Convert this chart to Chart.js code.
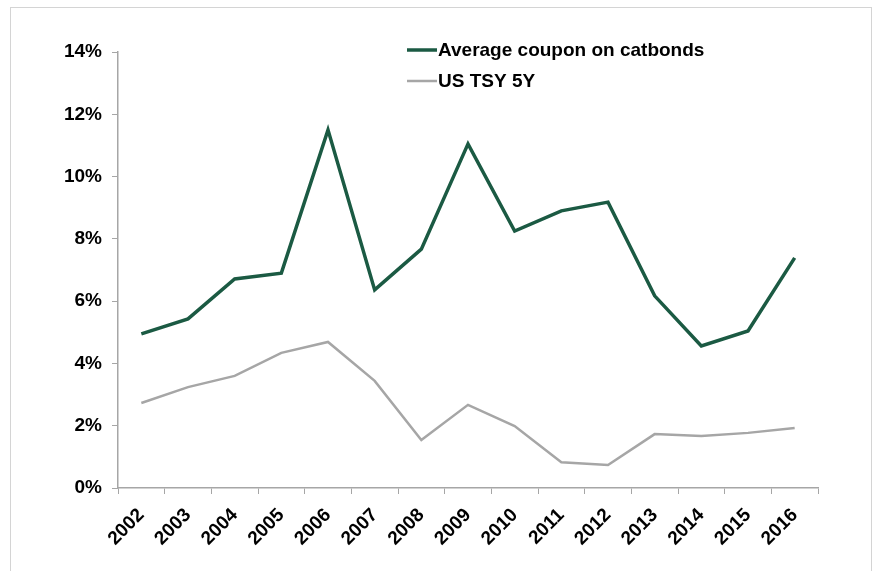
<!DOCTYPE html>
<html>
<head>
<meta charset="utf-8">
<script src="https://cdn.jsdelivr.net/npm/chart.js@4.4.0/dist/chart.umd.min.js"></script>
<style>
  body { margin: 0; background: #fff; overflow: hidden; }
  #frame { position: absolute; left: 10px; top: 7px; width: 860px; height: 580px; border: 1px solid #d4d4d4; }
  #wrap { position: absolute; left: 0; top: 0; width: 873px; height: 571px; }
</style>
</head>
<body>
<div id="frame"></div>
<div id="wrap"><canvas id="chart" width="873" height="571"></canvas></div>
<script>
// Chart data
const years = ['2002', '2003', '2004', '2005', '2006', '2007', '2008', '2009', '2010', '2011', '2012', '2013', '2014', '2015', '2016'];
const catbondCoupon = [4.95, 5.43, 6.71, 6.9, 11.5, 6.36, 7.67, 11.05, 8.25, 8.9, 9.18, 6.17, 4.56, 5.04, 7.39];
const tsy5y = [2.73, 3.24, 3.6, 4.34, 4.69, 3.44, 1.54, 2.67, 1.99, 0.83, 0.74, 1.73, 1.67, 1.77, 1.93];
const yTicks = [0, 2, 4, 6, 8, 10, 12, 14];

const axisColor = '#a6a6a6';
const tickFont = { family: 'Liberation Sans, Arial, sans-serif', size: 19, weight: 'bold' };

// Legend drawn inside the plot, Excel style
const legendPlugin = {
  id: 'insideLegend',
  afterDraw(chart) {
    const ctx = chart.ctx;
    ctx.save();
    ctx.font = 'bold 19px "Liberation Sans", Arial, sans-serif';
    ctx.textBaseline = 'middle';
    ctx.fillStyle = '#000';
    chart.data.datasets.forEach((ds, i) => {
      const y = 50 + i * 31;
      ctx.strokeStyle = ds.borderColor;
      ctx.lineWidth = ds.borderWidth;
      ctx.beginPath();
      ctx.moveTo(407, y);
      ctx.lineTo(437, y);
      ctx.stroke();
      ctx.fillText(ds.label, 438, y + 1);
    });
    ctx.restore();
  }
};

new Chart(document.getElementById('chart').getContext('2d'), {
  type: 'line',
  data: {
    labels: years,
    datasets: [
      {
        label: 'Average coupon on catbonds',
        data: catbondCoupon,
        borderColor: '#1b5a43',
        borderWidth: 3.5,
        pointRadius: 0,
        tension: 0
      },
      {
        label: 'US TSY 5Y',
        data: tsy5y,
        borderColor: '#a6a6a6',
        borderWidth: 2.5,
        pointRadius: 0,
        tension: 0
      }
    ]
  },
  options: {
    responsive: false,
    animation: false,
    layout: { padding: { top: 52, right: 55, left: 0, bottom: 0 } },
    plugins: {
      legend: { display: false },
      tooltip: { enabled: false }
    },
    scales: {
      x: {
        offset: true,
        grid: { offset: true, drawOnChartArea: false, color: axisColor, tickLength: 6 },
        border: { color: axisColor, width: 1.5 },
        ticks: { color: '#000', font: tickFont, maxRotation: 45, minRotation: 45, padding: 10 },
        afterFit(scale) { scale.height = 83; }
      },
      y: {
        min: 0,
        max: 14,
        afterBuildTicks(scale) { scale.ticks = yTicks.map(v => ({ value: v })); },
        grid: { drawOnChartArea: false, color: axisColor, tickLength: 6 },
        border: { color: axisColor, width: 1.5 },
        ticks: { color: '#000', font: tickFont, padding: 10, callback: v => v + '%' },
        afterFit(scale) { scale.width = 118; }
      }
    }
  },
  plugins: [legendPlugin]
});
</script>
</body>
</html>
